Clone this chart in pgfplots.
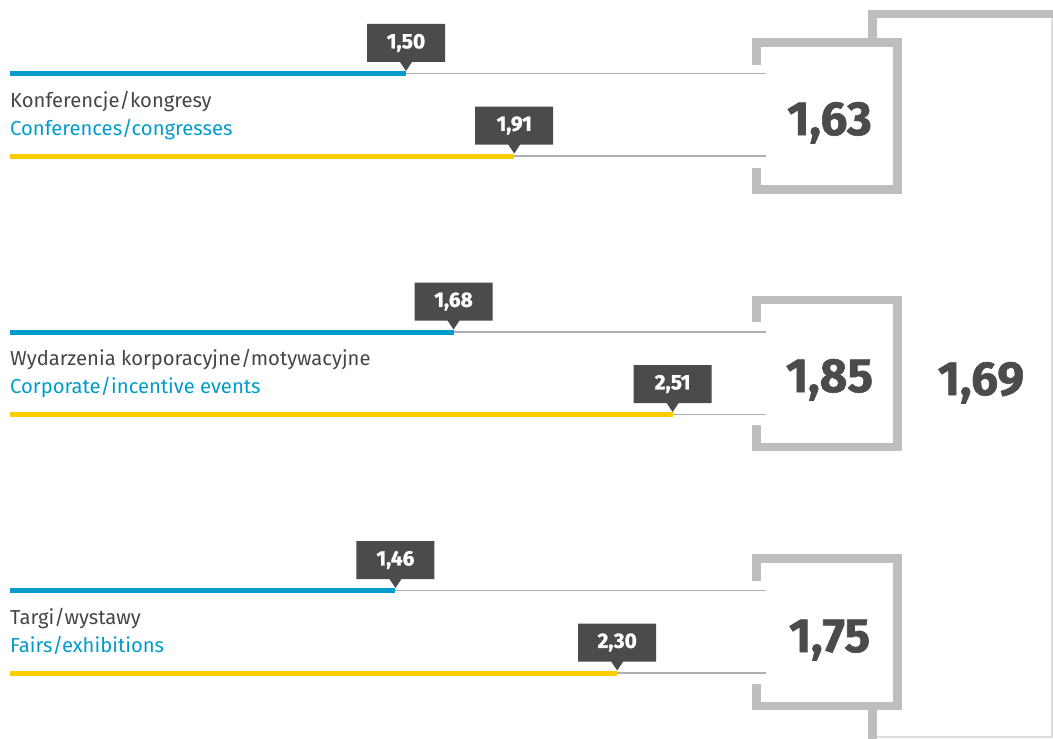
\documentclass[border=0pt]{standalone}
\usepackage{fontspec}
\setmainfont{Fira Sans}
\newfontfamily\heavy{Fira Sans}[FakeBold=1.2]
\usepackage{pgfplots}
\pgfplotsset{compat=1.18}
\usetikzlibrary{shapes.callouts}
\definecolor{cblue}{RGB}{0,156,204}
\definecolor{cyel}{RGB}{255,204,0}
\definecolor{cdark}{RGB}{75,75,77}
\definecolor{cgray}{RGB}{188,190,192}
\definecolor{cline}{RGB}{175,175,177}
\definecolor{cthin}{RGB}{222,222,224}
\definecolor{ctext}{RGB}{70,70,72}
\tikzset{
  val/.style={rectangle callout, fill=cdark, text=white, inner sep=0pt,
    font=\heavy\bfseries\fontsize{21}{21}\selectfont,
    minimum width=78bp, minimum height=38bp, callout pointer width=12bp,
    pos=1, yshift=30.5bp},
  avg/.style={anchor=base, text=cdark, font=\heavy\bfseries\fontsize{48}{48}\selectfont, inner sep=0pt},
  lab/.style={anchor=base west, inner sep=0pt, font=\fontsize{20.3}{20.3}\selectfont},
}
\begin{document}
\begin{tikzpicture}
\begin{axis}[
  scale only axis, width=1053bp, height=738bp,
  xmin=-0.037879, xmax=3.950758, ymin=0, ymax=738, y dir=reverse,
  hide axis, clip=false,
]
% big frame
\addplot[cthin, line width=1.2bp] coordinates {(3.2670,14) (3.9470,14) (3.9470,737) (3.2670,737)};
\addplot[cgray, line width=8.5bp, line join=miter] coordinates {(3.2670,60) (3.2670,14) (3.9508,14)};
\addplot[cgray, line width=8.5bp] coordinates {(3.2670,690) (3.2670,740)};
% box fills
\addplot[fill=white, draw=none] coordinates {(2.8277,42.5) (3.3617,42.5) (3.3617,189.5) (2.8277,189.5)} -- cycle;
\addplot[fill=white, draw=none] coordinates {(2.8277,300) (3.3617,300) (3.3617,447) (2.8277,447)} -- cycle;
\addplot[fill=white, draw=none] coordinates {(2.8277,558.5) (3.3617,558.5) (3.3617,706) (2.8277,706)} -- cycle;
% baselines
\addplot[cline, line width=1.3bp] coordinates {(0,73.5) (2.8636,73.5)};
\addplot[cline, line width=1.3bp] coordinates {(0,156) (2.8636,156)};
\addplot[cline, line width=1.3bp] coordinates {(0,332) (2.8636,332)};
\addplot[cline, line width=1.3bp] coordinates {(0,414.5) (2.8636,414.5)};
\addplot[cline, line width=1.3bp] coordinates {(0,590.5) (2.8636,590.5)};
\addplot[cline, line width=1.3bp] coordinates {(0,673) (2.8636,673)};
% box strokes
\addplot[cgray, line width=8.5bp, line join=miter] coordinates {(2.8277,65) (2.8277,42.5) (3.3617,42.5) (3.3617,189.5) (2.8277,189.5) (2.8277,168)};
\addplot[cgray, line width=8.5bp, line join=miter] coordinates {(2.8277,322) (2.8277,300) (3.3617,300) (3.3617,447) (2.8277,447) (2.8277,425)};
\addplot[cgray, line width=8.5bp, line join=miter] coordinates {(2.8277,581) (2.8277,558.5) (3.3617,558.5) (3.3617,706) (2.8277,706) (2.8277,684)};
% bars
\addplot[cblue, line width=5bp] coordinates {(0,73.5) (1.50,73.5)} node[val, callout absolute pointer={(axis cs:1.50,71)}] {1,50};
\addplot[cyel, line width=5bp] coordinates {(0,156) (1.91,156)} node[val, callout absolute pointer={(axis cs:1.91,153.5)}] {1,91};
\addplot[cblue, line width=5bp] coordinates {(0,332) (1.68,332)} node[val, callout absolute pointer={(axis cs:1.68,329.5)}] {1,68};
\addplot[cyel, line width=5bp] coordinates {(0,414.5) (2.51,414.5)} node[val, callout absolute pointer={(axis cs:2.51,412)}] {2,51};
\addplot[cblue, line width=5bp] coordinates {(0,590.5) (1.46,590.5)} node[val, callout absolute pointer={(axis cs:1.46,588)}] {1,46};
\addplot[cyel, line width=5bp] coordinates {(0,673) (2.30,673)} node[val, callout absolute pointer={(axis cs:2.30,670.5)}] {2,30};
% labels
\node[lab, text=ctext] at (axis cs:0,107) {Konferencje/kongresy};
\node[lab, text=cblue] at (axis cs:0,135) {Conferences/congresses};
\node[lab, text=ctext] at (axis cs:0,365.5) {Wydarzenia korporacyjne/motywacyjne};
\node[lab, text=cblue] at (axis cs:0,393.5) {Corporate/incentive events};
\node[lab, text=ctext] at (axis cs:0,624) {Targi/wystawy};
\node[lab, text=cblue] at (axis cs:0,652) {Fairs/exhibitions};
% averages
\node[avg] at (axis cs:3.1042,135) {1,63};
\node[avg] at (axis cs:3.1042,392) {1,85};
\node[avg] at (axis cs:3.1042,652) {1,75};
\node[avg] at (axis cs:3.6780,395) {1,69};
\end{axis}
\pgfresetboundingbox
\path[use as bounding box] (current axis.south west) rectangle (current axis.north east);
\end{tikzpicture}
\end{document}
